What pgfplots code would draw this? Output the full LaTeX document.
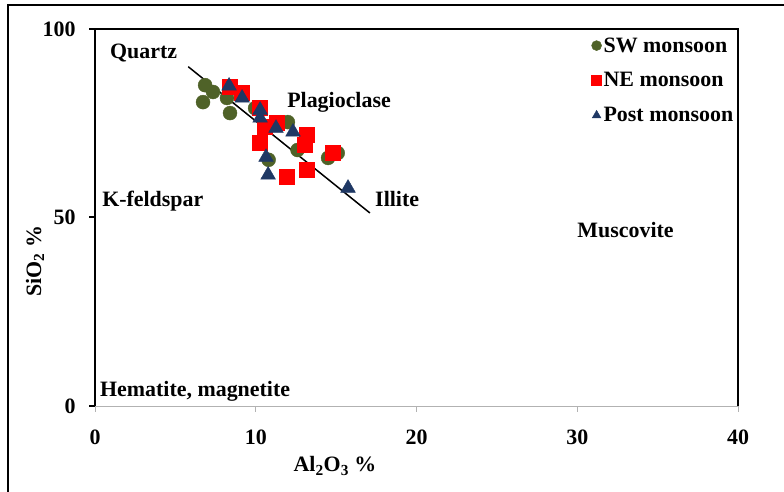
\documentclass[border=0pt]{standalone}
\usepackage{fontspec}
\setmainfont{Liberation Serif}
\usepackage{pgfplots}
\pgfplotsset{compat=1.18}
\definecolor{swg}{RGB}{79,98,40}
\definecolor{ner}{RGB}{255,0,0}
\definecolor{pmb}{RGB}{31,56,100}
\begin{document}
\begin{tikzpicture}
\useasboundingbox (0bp,0bp) rectangle (784bp,492bp);
\draw[line width=1.5bp] (8bp,0bp) -- (8bp,487bp) -- (784bp,487bp);
\begin{axis}[
  at={(95bp,86bp)}, anchor=south west, scale only axis,
  width=643bp, height=377bp,
  xmin=0,xmax=40,ymin=0,ymax=100,
  xtick={0,10,20,30,40}, ytick={0,50,100},
  axis x line*=bottom, axis y line*=left,
  x axis line style={-,draw=gray!60,line width=1bp},
  y axis line style={-,draw=black,line width=2bp},
  xtick style={draw=gray!60,line width=1bp},
  ytick style={draw=black,line width=2bp},
  tick align=outside, major tick length=6bp,
  /pgf/number format/assume math mode=true,
  ticklabel style={font=\fontsize{22}{26}\selectfont\bfseries},
  xticklabel style={yshift=-14bp},
  yticklabel style={xshift=-10bp},
  clip=false,
  legend style={draw=none, fill=none, at={(axis description cs:0.772,0.983)}, anchor=north west,
    font=\fontsize{22}{26}\selectfont\bfseries, row sep=15bp, cells={anchor=west}, inner sep=0pt},
  legend image code/.code={\draw[#1, mark size=5bp] plot coordinates {(0bp,0bp)};},
]
\addplot[black, line width=1.5bp, forget plot] coordinates {(5.8,90) (17.1,51.2)};
\addplot[only marks, mark=*, mark size=7bp, draw=swg, fill=swg] coordinates {
(6.85,85.1) (7.34,83.3) (6.72,80.6) (8.40,77.7) (8.21,81.7) (9.96,79.0) (12.0,75.3) (12.6,67.9) (10.8,65.3) (14.5,65.8) (15.1,67.1)};
\addlegendentry{SW monsoon}
\addplot[only marks, mark=square*, mark size=7.5bp, draw=ner, fill=ner] coordinates {
(8.40,84.6) (9.15,83.0) (10.27,79.0) (10.58,74.0) (11.33,75.1) (13.19,71.9) (13.07,69.2) (10.27,69.8) (14.81,67.1) (13.19,62.6) (11.95,60.7)};
\addlegendentry{NE monsoon}
\addplot[only marks, mark=triangle*, mark size=8.5bp, draw=pmb, fill=pmb] coordinates {
(8.34,84.9) (9.15,81.7) (10.27,78.5) (10.27,76.4) (11.26,73.7) (12.32,72.7) (10.64,66.0) (10.77,61.3) (15.74,57.8)};
\addlegendentry{Post monsoon}
\draw[black, line width=1.5bp] (rel axis cs:0,1) -- (rel axis cs:1,1) -- (rel axis cs:1,0);
\begin{scope}[every node/.style={font=\fontsize{22}{26}\selectfont\bfseries, inner sep=0pt, anchor=base west}]
\node at (axis cs:0.93,92.3) {Quartz};
\node at (axis cs:11.95,79.3) {Plagioclase};
\node at (axis cs:0.44,53.0) {K-feldspar};
\node at (axis cs:17.42,53.0) {Illite};
\node at (axis cs:30.0,44.8) {Muscovite};
\node at (axis cs:0.31,2.4) {Hematite, magnetite};
\end{scope}
\end{axis}
\node[font=\fontsize{22}{26}\selectfont\bfseries] at (335bp,26bp) {Al\textsubscript{2}O\textsubscript{3} \%};
\node[font=\fontsize{22}{26}\selectfont\bfseries, rotate=90] at (35bp,231bp) {SiO\textsubscript{2} \%};
\end{tikzpicture}
\end{document}
